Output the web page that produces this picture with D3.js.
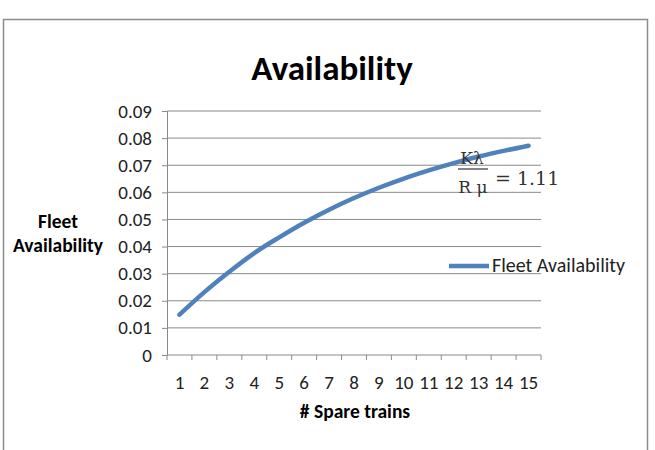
<!DOCTYPE html>
<html>
<head>
<meta charset="utf-8">
<script src="https://cdn.jsdelivr.net/npm/d3@7"></script>
<style>
body{margin:0;background:#fff;}
svg{font-family:Carlito,"Open Sans",sans-serif;}
</style>
</head>
<body>
<svg id="chart" width="655" height="450"></svg>
<script>
// data
var trains=[1,2,3,4,5,6,7,8,9,10,11,12,13,14,15];
var availability=[0.0149,0.0232,0.0307,0.0376,0.0434,0.0488,0.0536,0.0579,0.0617,0.0651,0.0681,0.0708,0.0732,0.0753,0.0772];
var yTicks=[0,0.01,0.02,0.03,0.04,0.05,0.06,0.07,0.08,0.09];
var seriesName="Fleet Availability";

var svg=d3.select("#chart");

// outer border
svg.append("rect")
.attr("x",3.5).attr("y",19.5)
.attr("width",644).attr("height",432)
.style("fill","none").style("stroke","#8c8c8c").style("stroke-width",1.5);

var plotLeft=167, plotRight=541, plotTop=111, plotBottom=355;

var x=d3.scaleBand().domain(trains).range([plotLeft,plotRight]);
var y=d3.scaleLinear().domain([0,0.09]).range([plotBottom,plotTop]);

// gridlines
svg.append("g")
.selectAll("line")
.data(yTicks.slice(1))
.join("line")
.attr("x1",plotLeft).attr("x2",plotRight)
.attr("y1",d=>y(d)).attr("y2",d=>y(d))
.style("stroke","#8a8a8a").style("stroke-width",1);

// y axis
var yAxis=d3.axisLeft(y).tickValues(yTicks).tickSize(5).tickPadding(10)
.tickFormat(d=>d==0?"0":d3.format(".2f")(d));
var yg=svg.append("g").attr("transform","translate("+plotLeft+",0)").call(yAxis);
yg.select(".domain").style("stroke","#8a8a8a");
yg.selectAll(".tick line").style("stroke","#8a8a8a");
yg.selectAll("text").style("font-size","19px").style("fill","#222").style("font-family","Carlito,sans-serif");

// x axis (ticks between categories)
var xg=svg.append("g").attr("transform","translate(0,"+plotBottom+")");
xg.append("line").attr("x1",plotLeft).attr("x2",plotRight)
.style("stroke","#8a8a8a");
var bounds=[plotLeft].concat(trains.map(d=>x(d)+x.bandwidth()));
xg.selectAll(".tk").data(bounds).join("line")
.attr("class","tk")
.attr("x1",d=>d).attr("x2",d=>d).attr("y1",0).attr("y2",5)
.style("stroke","#8a8a8a");
xg.selectAll("text").data(trains).join("text")
.attr("x",d=>x(d)+x.bandwidth()/2)
.attr("y",34)
.attr("text-anchor","middle")
.style("font-size","19px").style("fill","#222")
.text(d=>d);

// line
var line=d3.line()
.x((d,i)=>x(trains[i])+x.bandwidth()/2)
.y(d=>y(d))
.curve(d3.curveMonotoneX);
svg.append("path")
.datum(availability)
.attr("d",line)
.style("fill","none")
.style("stroke","#4F81BD")
.style("stroke-width",4.5)
.style("stroke-linecap","round");

// title
svg.append("text")
.attr("x",332).attr("y",80)
.attr("text-anchor","middle")
.style("font-size","35px").style("font-weight","bold")
.text("Availability");

// axis titles
svg.append("text")
.attr("x",355).attr("y",418)
.attr("text-anchor","middle")
.style("font-size","19.5px").style("font-weight","bold")
.text("# Spare trains");
var yt=svg.append("text")
.attr("text-anchor","middle")
.style("font-size","19.5px").style("font-weight","bold");
yt.append("tspan").attr("x",58).attr("y",228).text("Fleet");
yt.append("tspan").attr("x",58).attr("y",252).text("Availability");

// legend
svg.append("line")
.attr("x1",449).attr("x2",489).attr("y1",266).attr("y2",266)
.style("stroke","#4F81BD").style("stroke-width",4.5);
svg.append("text")
.attr("x",492).attr("y",272)
.style("font-size","20px").style("fill","#222")
.text(seriesName);

// annotation formula
var ann=svg.append("g").style("font-family","'DejaVu Serif','Liberation Serif',serif").style("fill","#333");
ann.append("text").attr("x",472).attr("y",164).attr("text-anchor","middle")
.style("font-size","17px").text("Kλ");
ann.append("line").attr("x1",458).attr("x2",488).attr("y1",169).attr("y2",169)
.style("stroke","#333").style("stroke-width",1.2);
ann.append("text").attr("x",473).attr("y",193).attr("text-anchor","middle")
.style("font-size","17px").text("R μ");
ann.append("text").attr("x",495).attr("y",185)
.style("font-size","19px").text("= 1.11");
</script>
</body>
</html>
